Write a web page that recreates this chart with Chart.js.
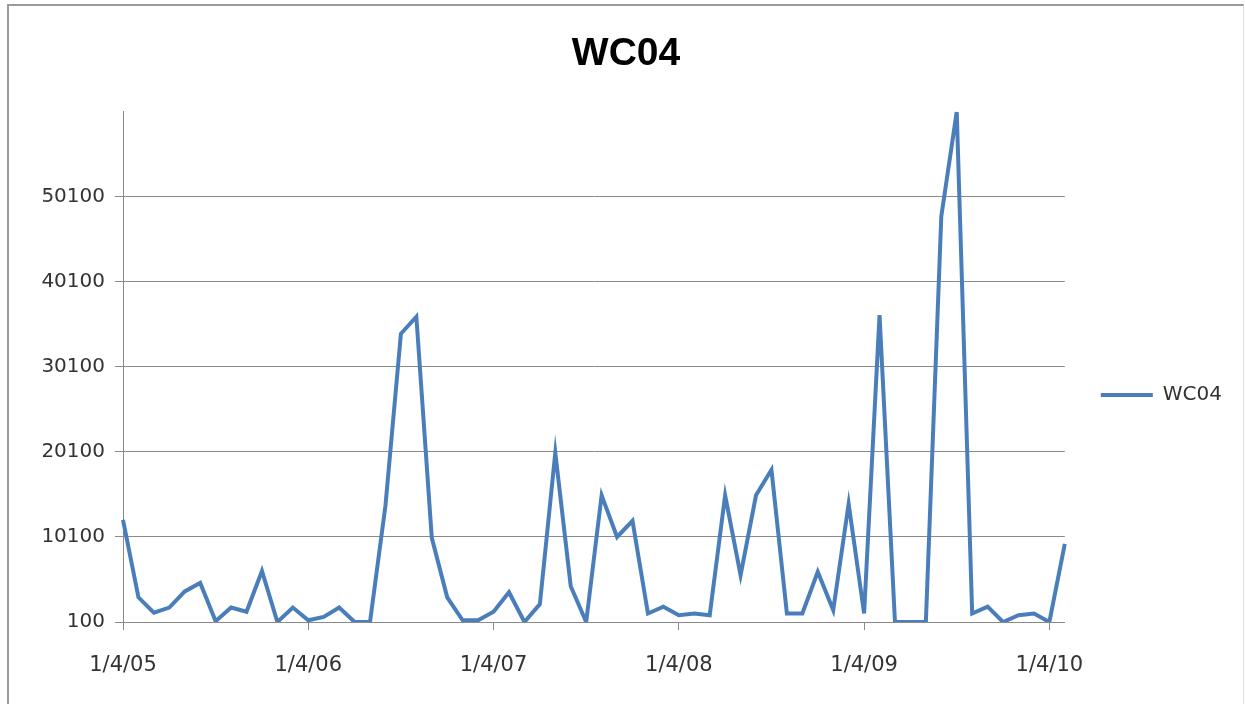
<!DOCTYPE html>
<html>
<head>
<meta charset="utf-8">
<title>WC04</title>
<script src="https://cdn.jsdelivr.net/npm/chart.js@4.4.1/dist/chart.umd.min.js"></script>
<style>
    html, body { margin: 0; padding: 0; background: #fff; }
    #wrap { position: relative; width: 1245px; height: 704px; overflow: hidden; }
    #frame { position: absolute; left: 7px; top: 4px; width: 1234px; height: 720px;
             border-left: 2px solid #9a9a9a; border-top: 2px solid #9a9a9a; border-right: 1px solid #e2e2e2;
             pointer-events: none; }
</style>
</head>
<body>
<div id="wrap">
    <canvas id="chart" width="1245" height="704"></canvas>
    <div id="frame"></div>
</div>
<script>
// données (une valeur par mois, jan 2005 -> fév 2010)
const months = [
    '2005-01','2005-02','2005-03','2005-04','2005-05','2005-06','2005-07','2005-08','2005-09','2005-10','2005-11','2005-12',
    '2006-01','2006-02','2006-03','2006-04','2006-05','2006-06','2006-07','2006-08','2006-09','2006-10','2006-11','2006-12',
    '2007-01','2007-02','2007-03','2007-04','2007-05','2007-06','2007-07','2007-08','2007-09','2007-10','2007-11','2007-12',
    '2008-01','2008-02','2008-03','2008-04','2008-05','2008-06','2008-07','2008-08','2008-09','2008-10','2008-11','2008-12',
    '2009-01','2009-02','2009-03','2009-04','2009-05','2009-06','2009-07','2009-08','2009-09','2009-10','2009-11','2009-12',
    '2010-01','2010-02'
];
const wc04 = [
    12100, 3000, 1200, 1800, 3700, 4700, 200, 1800, 1300, 6100, 100, 1800,
    300, 700, 1800, 100, 100, 13800, 34000, 36000, 10000, 3000, 300, 300,
    1300, 3600, 100, 2200, 20000, 4300, 100, 15000, 10100, 12000, 1100, 1900,
    900, 1100, 900, 15000, 5600, 15000, 18000, 1100, 1100, 6000, 1500, 14000,
    1100, 36200, 100, 100, 100, 47800, 60100, 1100, 1900, 100, 900, 1100,
    100, 9300
];
const yearTicks = ['1/4/05', '1/4/06', '1/4/07', '1/4/08', '1/4/09', '1/4/10'];
const yMin = 100;
const yMax = 60100;
const yStep = 10000;

const lineColor = '#4a7ebb';
const gridColor = '#8a8a8a';
const textColor = '#333';

new Chart(document.getElementById('chart'), {
    type: 'line',
    data: {
        labels: months,
        datasets: [{
            label: 'WC04',
            data: wc04,
            borderColor: lineColor,
            backgroundColor: lineColor,
            borderWidth: 4,
            pointRadius: 0,
            tension: 0
        }]
    },
    options: {
        responsive: false,
        animation: false,
        layout: { padding: { left: 20, right: 13, top: 0, bottom: 0 } },
        plugins: {
            title: {
                display: true,
                text: 'WC04',
                color: '#000',
                font: { family: 'Liberation Sans', weight: 'bold', size: 39 },
                padding: { top: 31, bottom: 34 }
            },
            legend: {
                position: 'right',
                // titre vide : sert seulement à descendre l'entrée de légende
                title: { display: true, text: '', font: { size: 10 }, padding: { top: 74, bottom: 0 } },
                labels: {
                    boxWidth: 52,
                    boxHeight: 4,
                    padding: 36,
                    color: textColor,
                    font: { family: 'DejaVu Sans', size: 20 },
                    generateLabels: chart => Chart.defaults.plugins.legend.labels.generateLabels(chart)
                        .map(l => ({ ...l, lineWidth: 0, fillStyle: lineColor }))
                }
            },
            tooltip: { enabled: false }
        },
        scales: {
            x: {
                afterFit: s => { s.height = 82; },
                grid: {
                    drawOnChartArea: false,
                    tickLength: 8,
                    color: c => (c.index % 12 === 0 ? gridColor : 'transparent')
                },
                border: { display: true, color: gridColor },
                ticks: {
                    autoSkip: false,
                    maxRotation: 0,
                    padding: 23,
                    color: textColor,
                    font: { family: 'DejaVu Sans', size: 21 },
                    callback: (v, i) => (i % 12 === 0 ? yearTicks[i / 12] : '')
                }
            },
            y: {
                min: yMin,
                max: yMax,
                afterFit: s => { s.width = 103; },
                grid: {
                    tickLength: 8,
                    color: c => (c.tick && c.tick.value === yMax ? 'transparent' : gridColor)
                },
                border: { display: true, color: gridColor },
                ticks: {
                    stepSize: yStep,
                    padding: 10,
                    color: textColor,
                    font: { family: 'DejaVu Sans', size: 20 },
                    callback: v => (v === yMax ? '' : v)
                }
            }
        }
    }
});
</script>
</body>
</html>
